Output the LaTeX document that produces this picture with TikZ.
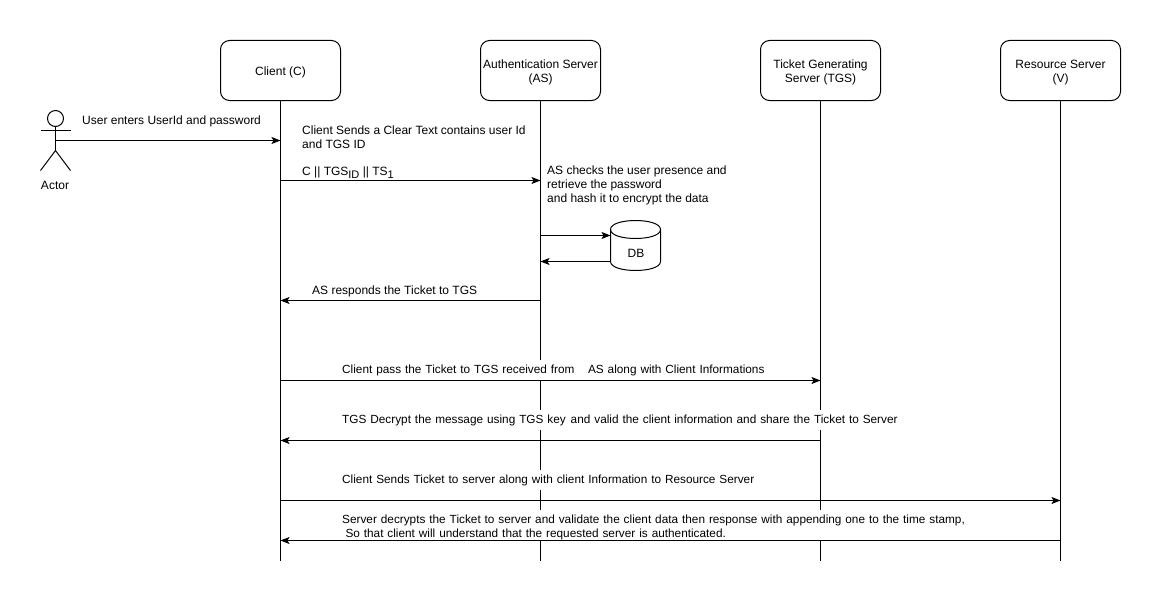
\documentclass[tikz,border=0pt]{standalone}
\usepackage{fontspec}
\setmainfont{Liberation Sans}
\usetikzlibrary{arrows.meta}
\newcommand{\nudge}[1]{\mbox{}\\[#1]}
\newcommand{\lowsub}[1]{\raisebox{-3pt}{\fontsize{11}{11}\selectfont #1}}
\tikzstyle{arrow}=[draw=black, line width=1pt, >={Stealth[length=9pt, width=7pt, inset=2pt]}]
\tikzstyle{lifebox}=[draw=black, line width=1pt, rounded corners=9pt, minimum width=120pt, minimum height=60pt, inner sep=0pt, align=center]
\tikzstyle{note}=[anchor=west, inner sep=0pt, align=left]
\tikzstyle{msg}=[anchor=south west, fill=white, inner xsep=1.5pt, inner ysep=0pt, align=left, text height=6pt, text depth=0pt, minimum height=20pt, font=\fontsize{11.8}{14}\selectfont]

\begin{document}
\begin{tikzpicture}[x=1pt, y=-1pt, font=\fontsize{12}{14}\selectfont]
		   \useasboundingbox (-0.5, -0.5) rectangle (1160.5, 601.5);

		   \node (client) at (280, 70)[lifebox] {\nudge{-2pt}Client (C)};
		   \node (auth) at (540, 70)[lifebox] {\nudge{-2pt}Authentication Server\\(AS)};
		   \node (tgs) at (820, 70)[lifebox] {\nudge{-2pt}Ticket Generating\\Server (TGS)};
		   \node (res) at (1060, 70)[lifebox] {\nudge{-2pt}Resource Server\\(V)};

		   \foreach \name/\px in {client/280, auth/540, tgs/820, res/1060} {
			   \coordinate (\name end) at (\px, 560);
			   \draw[arrow] (\name) -- (\name end);
			   \foreach \py in {140, 180, 235, 261, 300, 380, 440, 500, 540} {
				   \coordinate (\name\py) at (\px, \py);
			   }
		   }

		   \node (head) at (55, 118)[circle, draw=black, line width=1pt, minimum size=16pt, inner sep=0pt] {};
		   \coordinate (hip) at (55, 150);
		   \coordinate (chest) at (55, 140);
		   \coordinate (armL) at (40, 130);
		   \coordinate (armR) at (70, 130);
		   \coordinate (legL) at (40, 170);
		   \coordinate (legR) at (70, 170);
		   \draw[arrow] (head) -- (hip);
		   \draw[arrow] (armL) -- (armR);
		   \draw[arrow] (legL) -- (hip) -- (legR);
		   \node (actor) at (54.5, 184.5)[inner sep=0pt] {Actor};

		   \draw[arrow, fill=white] (610, 229) .. controls (610, 217) and (660, 217) .. (660, 229) -- (660, 261) .. controls (660, 273) and (610, 273) .. (610, 261) -- cycle;
		   \draw[arrow] (610, 229) .. controls (610, 241) and (660, 241) .. (660, 229);
		   \node (db) at (635.5, 252.5)[inner sep=0pt] {DB};
		   \coordinate (dbIn) at (610, 235);
		   \coordinate (dbOut) at (610, 261);

		   \draw[arrow, ->] (chest) -- (client140);
		   \draw[arrow, ->] (client180) -- (auth180);
		   \draw[arrow, ->] (auth235) -- (dbIn);
		   \draw[arrow, ->] (dbOut) -- (auth261);
		   \draw[arrow, ->] (auth300) -- (client300);
		   \draw[arrow, ->] (client380) -- (tgs380);
		   \draw[arrow, ->] (tgs440) -- (client440);
		   \draw[arrow, ->] (client500) -- (res500);
		   \draw[arrow, ->] (res540) -- (client540);

		   \node (userNote) at (81.5, 120.5)[note] {User enters UserId and password};
		   \node (clearNote) at (301.5, 136.5)[note] {Client Sends a Clear Text contains user Id\\and TGS ID};
		   \node (idNote) at (301.5, 172.5)[note] {C || TGS\lowsub{ID} || TS\lowsub{1}};
		   \node (checkNote) at (546.5, 184.5)[note] {AS checks the user presence and\\retrieve the password\\and hash it to encrypt the data};
		   \node (ticketNote) at (311.5, 290.5)[note] {AS responds the Ticket to TGS};

		   \node (passMsg) at (340, 380)[msg, text width=437pt] {Client pass the Ticket to TGS received from\hspace{13.5pt}AS along with Client Informations};
		   \node (decryptMsg) at (340, 430)[msg, text width=557pt] {TGS Decrypt the message using TGS key\ \hspace{1pt}and valid the client information and share the Ticket to Server};
		   \node (sendMsg) at (340, 490)[msg, text width=417pt] {Client Sends Ticket to server along with client Information to Resource Server};
		   \node (serverMsg) at (340, 540)[msg, text width=637pt, minimum height=30pt, text height=7.2pt, text depth=10.2pt] {Server decrypts the Ticket to server and validate the client data then response with appending one to the time stamp,\\\hspace*{3.3pt}So that client will understand that the requested server is authenticated.};
	   \end{tikzpicture}
\end{document}
